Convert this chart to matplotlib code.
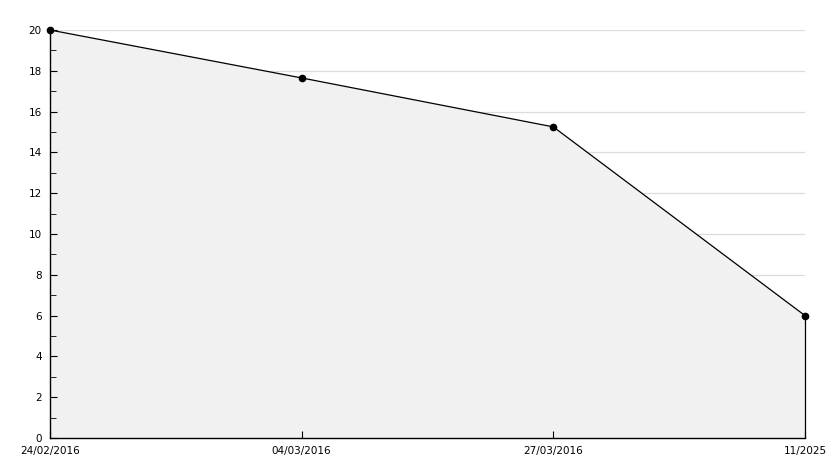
import matplotlib
matplotlib.use("Agg")
import matplotlib.pyplot as plt
from matplotlib.ticker import MultipleLocator

categories = ["24/02/2016", "04/03/2016", "27/03/2016", "11/2025"]
values = [20, 17.65, 15.25, 6]
grid_levels = [2, 4, 6, 8, 10, 12, 14, 16, 18, 20]

fig = plt.figure(figsize=(8.34, 4.68), dpi=100)
ax = fig.add_axes([50/834, 30/468, 755/834, 408/468])
x = list(range(len(categories)))
ax.hlines(grid_levels, 0, len(categories) - 1, color="#dcdcdc", lw=0.9, zorder=0.1)
ax.fill_between(x, values, 0, color="#f1f1f1", zorder=0.2)
ax.plot(x, values, color="black", lw=0.9, marker="o", ms=4.5, zorder=3, clip_on=False)
ax.vlines(x[-1], 0, values[-1], color="black", lw=0.9, zorder=3, clip_on=False)
ax.set_xlim(0, len(categories) - 1)
ax.set_ylim(0, 20)
ax.yaxis.set_major_locator(MultipleLocator(2))
ax.yaxis.set_minor_locator(MultipleLocator(1))
ax.set_xticks(x)
ax.set_xticklabels(categories)
for s in ["top", "right"]:
    ax.spines[s].set_visible(False)
for s in ["left", "bottom"]:
    ax.spines[s].set_linewidth(1.0)
ax.tick_params(axis="both", direction="in", labelsize=7.5, colors="black")
ax.tick_params(axis="y", which="major", length=5, pad=6)
ax.tick_params(axis="y", which="minor", length=4, direction="in")
ax.tick_params(axis="x", which="major", length=5, pad=6)
fig.savefig("out.png", dpi=100)
